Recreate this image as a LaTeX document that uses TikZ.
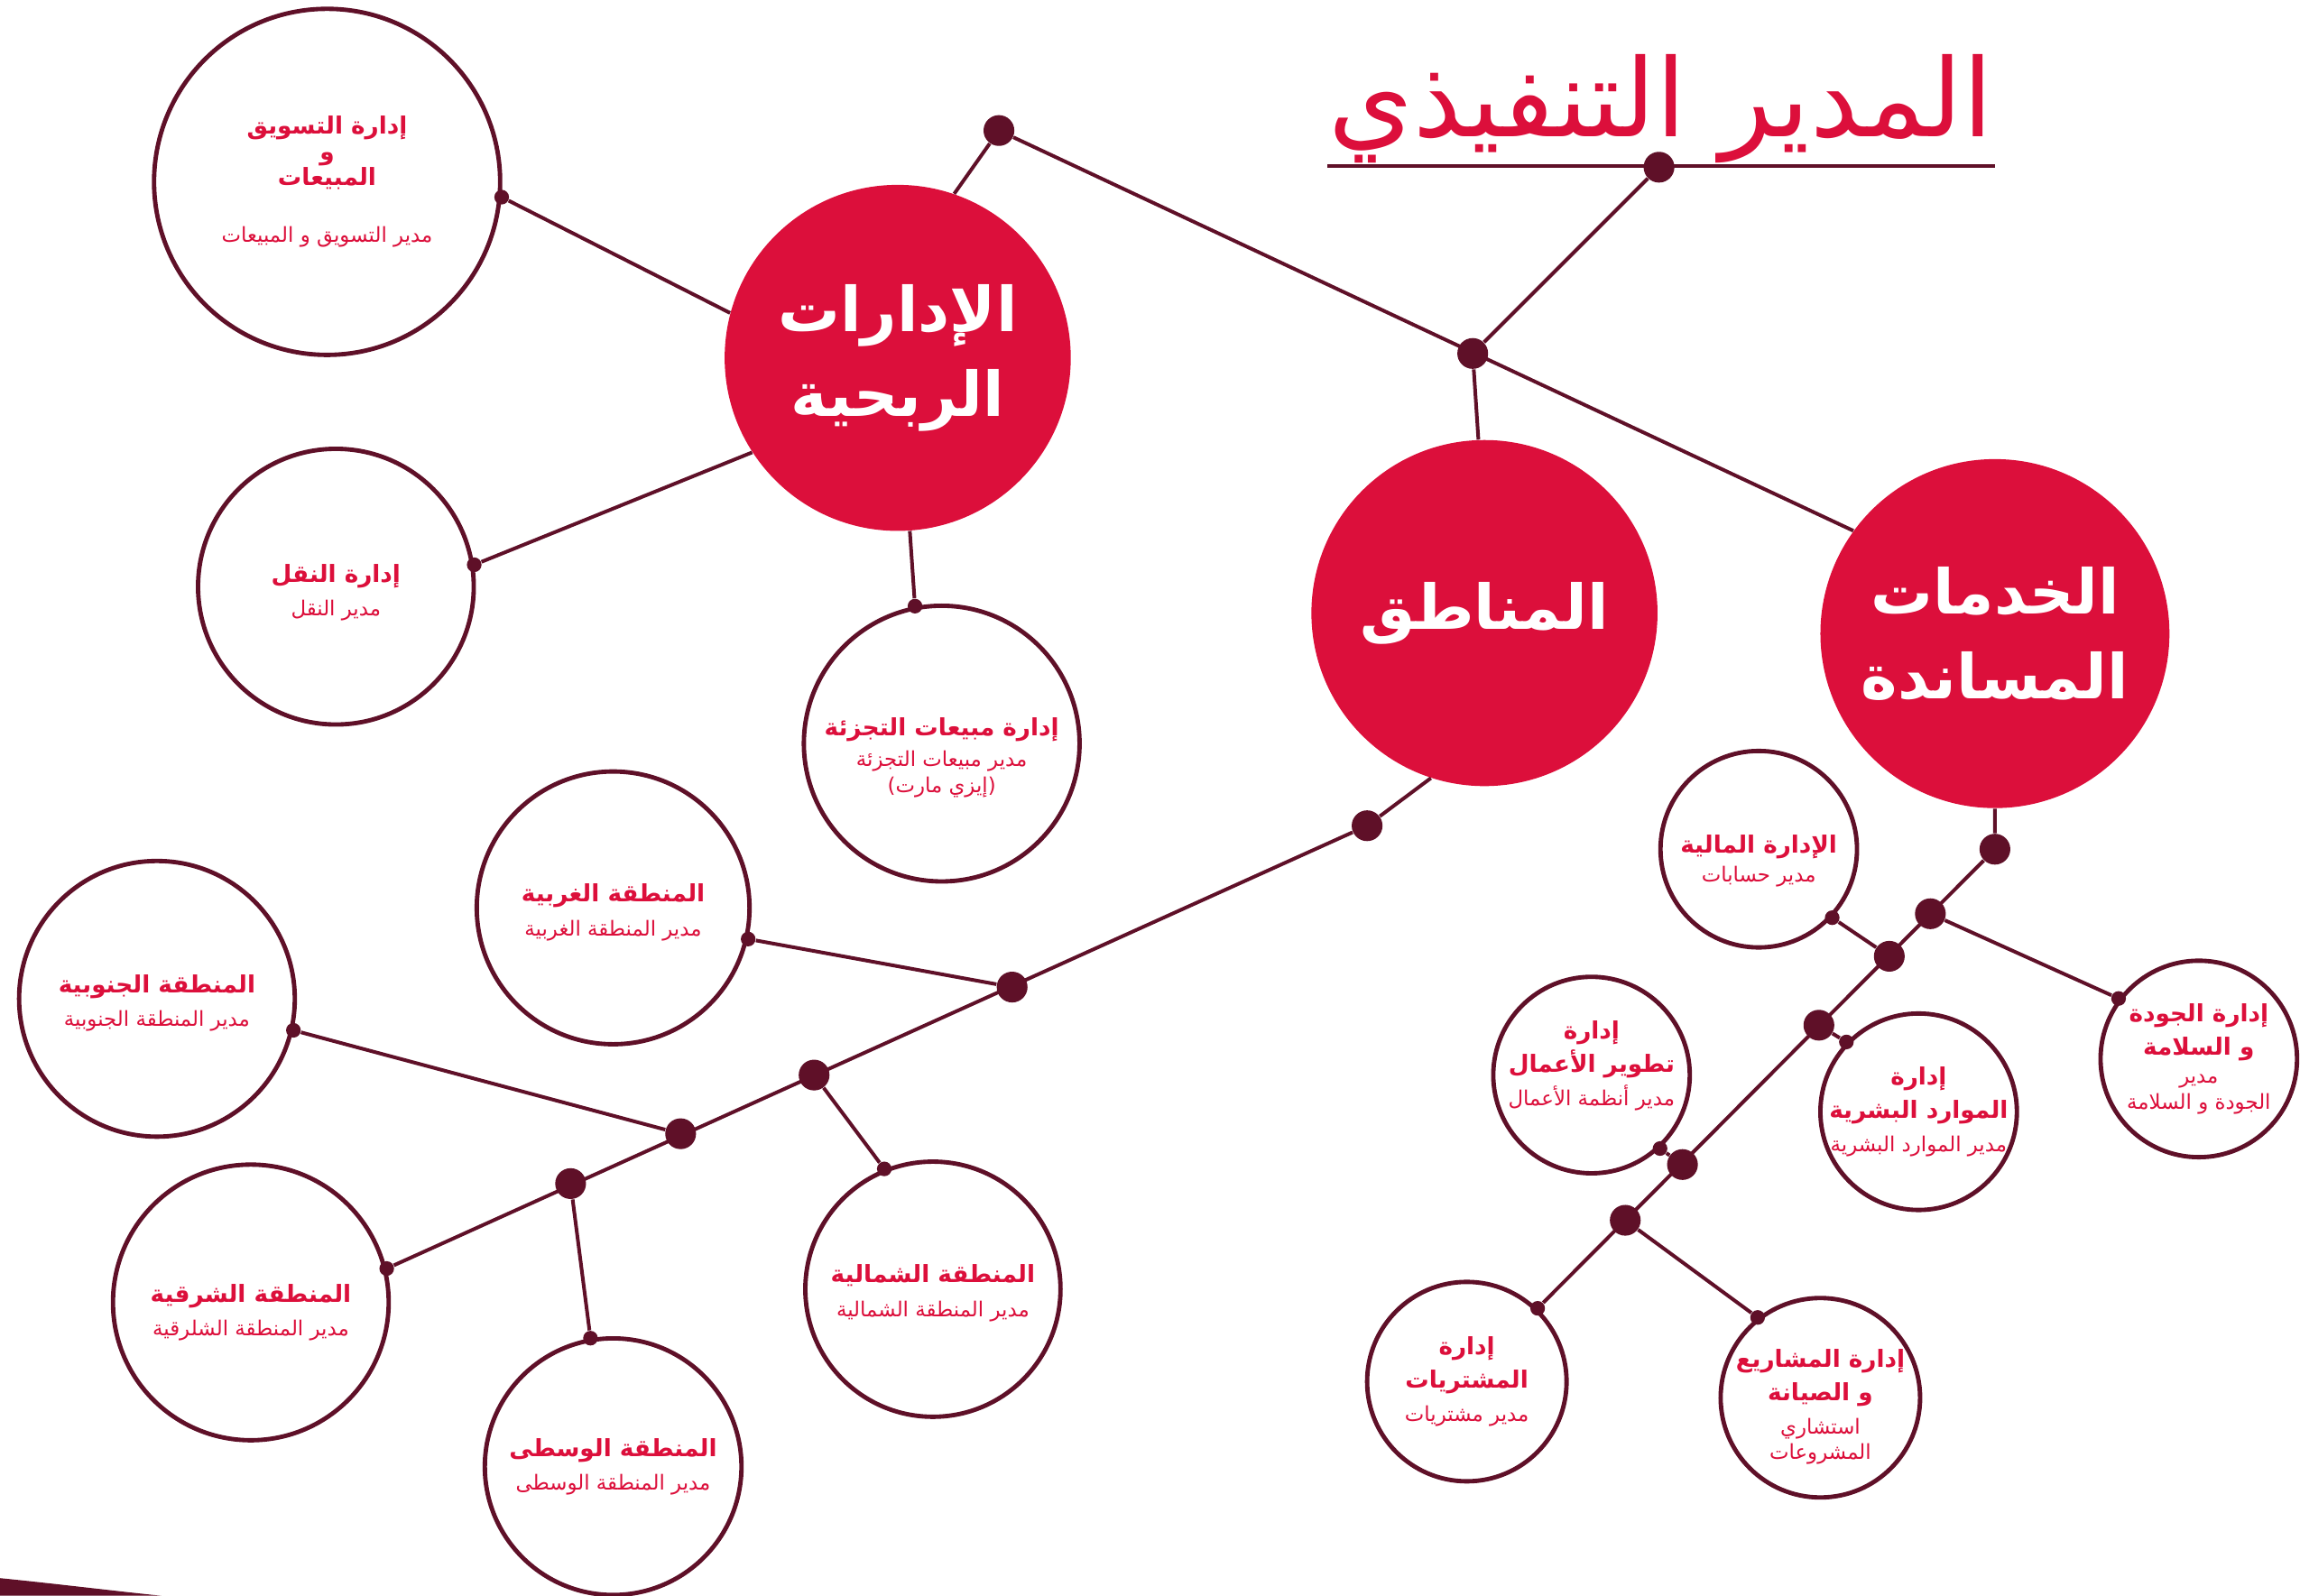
\documentclass[tikz,border=0pt]{standalone}
\usepackage{fontspec}
\usepackage{tikz}
\usetikzlibrary{positioning}
\TeXXeTstate=1
\newfontfamily\arabicfont[Script=Arabic]{DejaVu Sans}
\definecolor{ared}{HTML}{DC0F3B}
\definecolor{amaroon}{HTML}{5F1028}
\newcommand{\rl}[1]{\beginR#1\endR}
\newcommand{\dept}[1]{{\bfseries\fontsize{9.2}{13}\selectfont\rl{#1}}}
\newcommand{\mngr}[1]{{\fontsize{8}{11}\selectfont\rl{#1}}}
\tikzset{big/.style={circle,fill=ared,text=white,inner sep=0pt,minimum size=4.72cm,align=center,font=\arabicfont\bfseries\fontsize{24}{33}\selectfont},
  unit/.style={circle,draw=amaroon,line width=1.7pt,fill=white,inner sep=-14pt,align=center,text=ared,font=\arabicfont\fontsize{9.2}{13}\selectfont},
  jdot/.style={circle,fill=amaroon,inner sep=0pt,minimum size=0.42cm},
  pin/.style={circle,fill=amaroon,inner sep=0pt,minimum size=0.2cm},
  link/.style={draw=amaroon,line width=1.4pt}}

\begin{document}
\begin{tikzpicture}[x=0.02cm,y=-0.02cm]
    \useasboundingbox (0,0) rectangle (1568,1088);
    % title
    \node[text=ared,font=\arabicfont\fontsize{42}{50}\selectfont] (ceo) at (1132,74) {\rl{المدير التنفيذي}};
    \coordinate (ul) at (905,113);
    \coordinate (ur) at (1360,113);
    \draw[link] (ul) -- (ur);
    % the three main groups
    \node[big] (rab) at (612,244) {\rl{الإدارات}\\\rl{الربحية}};
    \node[big] (man) at (1012,418) {\rl{المناطق}};
    \node[big,minimum size=4.76cm] (khd) at (1360,432) {\rl{الخدمات}\\\rl{المساندة}};
    % departments (an empty first line pushes the text down)
    \node[unit,minimum size=4.72cm] (mkt) at (223,124) {\dept{إدارة التسويق}\\[-3pt]\dept{و}\\[-3pt]\dept{المبيعات}\\[9pt]\mngr{مدير التسويق و المبيعات}};
    \node[unit,minimum size=3.76cm] (naql) at (229,400) {\mngr{}\\[-1.5pt]\dept{إدارة النقل}\\\mngr{مدير النقل}};
    \node[unit,minimum size=3.76cm] (tajz) at (642,507) {\mngr{}\\[5pt]\dept{إدارة مبيعات التجزئة}\\[-1pt]\mngr{مدير مبيعات التجزئة}\\[-3pt]\mngr{(إيزي مارت)}};
    % regions
    \node[unit,minimum size=3.72cm] (west) at (418,619) {\mngr{}\\[-2.5pt]\dept{المنطقة الغربية}\\\mngr{مدير المنطقة الغربية}};
    \node[unit,minimum size=3.76cm] (south) at (107,681) {\mngr{}\\[-2.5pt]\dept{المنطقة الجنوبية}\\\mngr{مدير المنطقة الجنوبية}};
    \node[unit,minimum size=3.76cm] (east) at (171,888) {\mngr{}\\[2pt]\dept{المنطقة الشرقية}\\\mngr{مدير المنطقة الشلرقية}};
    \node[unit,minimum size=3.5cm] (mid) at (418,1000) {\dept{المنطقة الوسطى}\\\mngr{مدير المنطقة الوسطى}};
    \node[unit,minimum size=3.48cm] (north) at (636,879) {\mngr{}\\[-3pt]\dept{المنطقة الشمالية}\\\mngr{مدير المنطقة الشمالية}};
    % support services
    \node[unit,minimum size=2.68cm] (fin) at (1199,579) {\mngr{}\\[3pt]\dept{الإدارة المالية}\\[-2pt]\mngr{مدير حسابات}};
    \node[unit,minimum size=2.68cm] (qual) at (1499,722) {\dept{إدارة الجودة}\\\dept{و السلامة}\\[-2pt]\mngr{مدير}\\[-3pt]\mngr{الجودة و السلامة}};
    \node[unit,minimum size=2.68cm] (hr) at (1308,758) {\dept{إدارة}\\\dept{الموارد البشرية}\\\mngr{مدير الموارد البشرية}};
    \node[unit,minimum size=2.68cm] (bizdev) at (1085,733) {\dept{إدارة}\\\dept{تطوير الأعمال}\\\mngr{مدير أنظمة الأعمال}\\[-4pt]\mngr{}};
    \node[unit,minimum size=2.72cm] (proc) at (1000,942) {\dept{إدارة}\\\dept{المشتريات}\\\mngr{مدير مشتريات}};
    \node[unit,minimum size=2.72cm] (proj) at (1241,953) {\mngr{}\\[1pt]\dept{إدارة المشاريع}\\\dept{و الصيانة}\\\mngr{استشاري}\\[-3pt]\mngr{المشروعات}};
    % junctions
    \node[jdot] (j0) at (1131,114) {};
    \node[jdot] (j1) at (681,89) {};
    \node[jdot] (j2) at (1004,241) {};
    \node[jdot] (m0) at (932,563) {};
    \node[jdot] (m1) at (690,673) {};
    \node[jdot] (m2) at (555,733) {};
    \node[jdot] (m3) at (464,773) {};
    \node[jdot] (m4) at (389,807) {};
    \node[jdot] (k0) at (1360,579) {};
    \node[jdot] (k1) at (1316,623) {};
    \node[jdot] (k2) at (1288,652) {};
    \node[jdot] (k3) at (1240,699) {};
    \node[jdot] (k4) at (1147,794) {};
    \node[jdot] (k5) at (1108,832) {};
    % pins on the circles
    \node[pin] (p-mkt) at (mkt.-5) {};
    \node[pin] (p-naql) at (naql.9) {};
    \node[pin] (p-tajz) at (tajz.101) {};
    \node[pin] (p-west) at (west.-13) {};
    \node[pin] (p-south) at (south.-13) {};
    \node[pin] (p-east) at (east.14) {};
    \node[pin] (p-mid) at (mid.100) {};
    \node[pin] (p-north) at (north.112) {};
    \node[pin] (p-fin) at (fin.-43) {};
    \node[pin] (p-qual) at (qual.143) {};
    \node[pin] (p-hr) at (hr.136) {};
    \node[pin] (p-bizdev) at (bizdev.-47) {};
    \node[pin] (p-proc) at (proc.46) {};
    \node[pin] (p-proj) at (proj.128) {};
    % links
    \draw[link] (j0) -- (j2);
    \draw[link] (j1) -- (khd.144);
    \draw[link] (j2) -- (man.92);
    \draw[link] (j1) -- (rab.71);
    \draw[link] (p-mkt) -- (rab.165);
    \draw[link] (p-naql) -- (rab.213);
    \draw[link] (p-tajz) -- (rab.-86);
    \draw[link] (man.-108) -- (m0) -- (p-east);
    \draw[link] (p-west) -- (m1);
    \draw[link] (p-south) -- (m3);
    \draw[link] (m2) -- (p-north);
    \draw[link] (m4) -- (p-mid);
    \draw[link] (khd.-90) -- (k0) -- (p-proc);
    \draw[link] (p-fin) -- (k2);
    \draw[link] (k1) -- (p-qual);
    \draw[link] (k3) -- (p-hr);
    \draw[link] (k4) -- (p-bizdev);
    \draw[link] (k5) -- (p-proj);
    % corner swoosh
    \fill[amaroon] (0,1076) .. controls (40,1080) and (80,1085) .. (110,1088) -- (0,1088) -- cycle;
\end{tikzpicture}
\end{document}
